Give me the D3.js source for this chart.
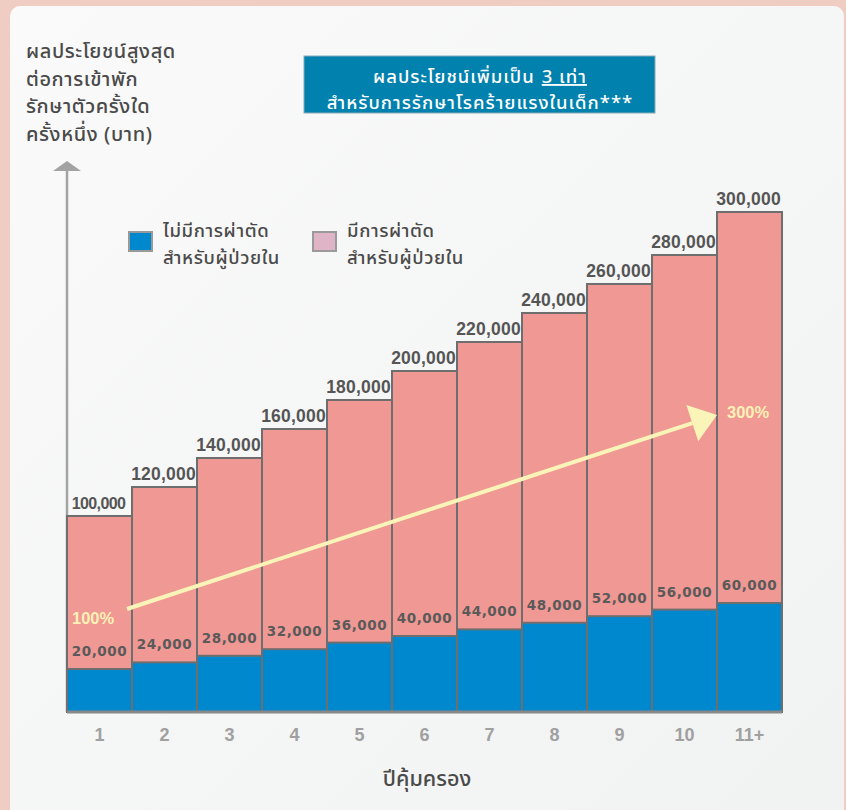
<!DOCTYPE html>
<html>
<head>
<meta charset="utf-8">
<script src="https://cdn.jsdelivr.net/npm/d3@7"></script>
<style>
  html, body { margin: 0; padding: 0; background: #EFCDC2; }
  svg { display: block; }
  text { font-family: "Noto Sans Thai", "Noto Sans", "DejaVu Sans", sans-serif; }
</style>
</head>
<body>
<svg id="chart" width="846" height="810"></svg>
<script>
// ---- data ----
const categories = ["1", "2", "3", "4", "5", "6", "7", "8", "9", "10", "11+"];
const withSurgery = [100000, 120000, 140000, 160000, 180000, 200000, 220000, 240000, 260000, 280000, 300000];
const noSurgery = [20000, 24000, 28000, 32000, 36000, 40000, 44000, 48000, 52000, 56000, 60000];
const yTitleLines = ["ผลประโยชน์สูงสุด", "ต่อการเข้าพัก", "รักษาตัวครั้งใด", "ครั้งหนึ่ง (บาท)"];
const legendLabels = [["ไม่มีการผ่าตัด", "สำหรับผู้ป่วยใน"], ["มีการผ่าตัด", "สำหรับผู้ป่วยใน"]];
const bannerLine1 = "ผลประโยชน์เพิ่มเป็น";
const bannerEmph = "3 เท่า";
const bannerLine2 = "สำหรับการรักษาโรคร้ายแรงในเด็ก***";
const xTitle = "ปีคุ้มครอง";
const pctLabels = ["100%", "300%"];

// ---- layout ----
const svg = d3.select("#chart");
const W = 846, H = 810;
const baseY = 712;
const left = 67, right = 782;

const defs = svg.append("defs");
const grad = defs.append("linearGradient").attr("id", "card").attr("x1", "0").attr("y1", "0").attr("x2", "1").attr("y2", "1");
grad.append("stop").attr("offset", "0").attr("stop-color", "#FAFAFA");
grad.append("stop").attr("offset", "1").attr("stop-color", "#F1F2F2");

svg.append("rect").attr("width", W).attr("height", H).attr("fill", "#EFCDC2");
svg.append("rect").attr("x", 10).attr("y", 6).attr("width", 834).attr("height", 820)
  .attr("rx", 10).attr("fill", "url(#card)");

const x = d3.scaleBand().domain(categories).range([left, right]).paddingInner(0).paddingOuter(0);
// The infographic is not drawn to strict proportion; a polylinear scale reproduces it.
const y = d3.scaleLinear()
  .domain([0, 20000, 60000, 100000, 280000, 300000])
  .range([baseY, 669, 603, 516, 255, 212]);

// y axis arrow
svg.append("line").attr("x1", left).attr("x2", left).attr("y1", 170).attr("y2", baseY)
  .attr("stroke", "#A3A3A3").attr("stroke-width", 2.5);
svg.append("path").attr("d", d3.line()([[left - 14, 171], [left, 161], [left + 14, 171]]) + "Z")
  .attr("fill", "#A3A3A3");

// bars
const g = svg.append("g");
categories.forEach((c, i) => {
  g.append("rect").attr("x", x(c)).attr("y", y(withSurgery[i]))
    .attr("width", x.bandwidth()).attr("height", baseY - y(withSurgery[i]))
    .attr("fill", "#F09893").attr("stroke", "#6E6E6E").attr("stroke-width", 2);
  g.append("rect").attr("x", x(c)).attr("y", y(noSurgery[i]))
    .attr("width", x.bandwidth()).attr("height", baseY - y(noSurgery[i]))
    .attr("fill", "#0088CF").attr("stroke", "#6E6E6E").attr("stroke-width", 2);
});
// baseline
svg.append("line").attr("x1", left).attr("x2", right).attr("y1", baseY).attr("y2", baseY)
  .attr("stroke", "#888").attr("stroke-width", 3);

const fmt = d3.format(",");
// total labels
categories.forEach((c, i) => {
  svg.append("text").attr("x", x(c) + x.bandwidth() / 2 - 1).attr("y", y(withSurgery[i]) - 7)
    .attr("text-anchor", "middle").attr("font-size", i === 0 ? 16 : 17.5).attr("font-weight", "bold")
    .attr("fill", "#555").style("font-family", "'Liberation Sans', Arial, sans-serif")
    .attr("letter-spacing", i === 0 ? -0.6 : 0.2)
    .text(fmt(withSurgery[i]));
  svg.append("text").attr("x", x(c) + x.bandwidth() / 2).attr("y", y(noSurgery[i]) - 13)
    .attr("text-anchor", "middle").attr("font-size", 13.5).attr("font-weight", "bold")
    .attr("fill", "#5A5A5A").attr("letter-spacing", 0.6).style("font-family", "'DejaVu Sans', sans-serif")
    .text(fmt(noSurgery[i]));
});

// x axis labels
const xAxis = d3.axisBottom(x).tickSize(0).tickPadding(0);
const xg = svg.append("g").attr("transform", `translate(0,${baseY})`).call(xAxis);
xg.select(".domain").remove();
xg.selectAll("text").attr("y", 29).attr("dy", 0).attr("font-size", 18).attr("font-weight", "bold")
  .attr("fill", "#A0A0A0").style("font-family", "'Liberation Sans', Arial, sans-serif");

// x title
svg.append("text").attr("x", 427).attr("y", 786).attr("text-anchor", "middle")
  .attr("font-size", 21.5).attr("font-weight", 500).attr("fill", "#4A4A4A").text(xTitle);

// y title
yTitleLines.forEach((t, i) => {
  svg.append("text").attr("x", 26).attr("y", 58 + i * 27.5).attr("font-size", 20)
    .attr("font-weight", 500).attr("letter-spacing", 0.6).attr("fill", "#4A4A4A").text(t);
});

// banner
svg.append("rect").attr("x", 304).attr("y", 56).attr("width", 351).attr("height", 57)
  .attr("fill", "#0081AE").attr("stroke", "#8AA9B8").attr("stroke-width", 1);
const bannerSize = 18.5;
const t1 = svg.append("text").attr("y", 83).attr("font-size", bannerSize).attr("font-weight", 500)
  .attr("letter-spacing", 1).attr("fill", "#fff").text(bannerLine1);
const t2 = svg.append("text").attr("y", 83).attr("font-size", bannerSize).attr("font-weight", 500)
  .attr("letter-spacing", 1).attr("fill", "#fff").attr("text-decoration", "underline").text(bannerEmph);
const w1 = t1.node().getComputedTextLength();
const w2 = t2.node().getComputedTextLength();
const gap = 7;
const startX = 480 - (w1 + gap + w2) / 2;
t1.attr("x", startX);
t2.attr("x", startX + w1 + gap);
svg.append("text").attr("x", 480).attr("y", 109).attr("text-anchor", "middle")
  .attr("font-size", bannerSize).attr("font-weight", 500).attr("letter-spacing", 1)
  .attr("fill", "#fff").text(bannerLine2);

// legend
const legendColors = [["#0088CF", "#999"], ["#DFB4C6", "#9A9A9A"]];
const legendX = [129, 313];
legendLabels.forEach((lines, i) => {
  svg.append("rect").attr("x", legendX[i]).attr("y", 232).attr("width", 23).attr("height", 19)
    .attr("fill", legendColors[i][0]).attr("stroke", legendColors[i][1]).attr("stroke-width", 2);
  lines.forEach((t, j) => {
    svg.append("text").attr("x", legendX[i] + 34).attr("y", 237 + j * 26.5).attr("font-size", 18.5)
      .attr("font-weight", 500).attr("letter-spacing", 0.6).attr("fill", "#4A4A4A").text(t);
  });
});

// growth arrow
const ax0 = x("2") - 5, ay0 = 609;
const ax1 = x("11+"), ay1 = 415;
const ang = Math.atan2(ay1 - ay0, ax1 - ax0);
const headLen = 26, headHalf = 19;
const bx = ax1 - headLen * Math.cos(ang), by = ay1 - headLen * Math.sin(ang);
svg.append("line").attr("x1", ax0).attr("y1", ay0).attr("x2", bx).attr("y2", by)
  .attr("stroke", "#FBF4B8").attr("stroke-width", 4);
svg.append("path").attr("d", d3.line()([
  [ax1, ay1],
  [bx + headHalf * Math.sin(ang), by - headHalf * Math.cos(ang)],
  [bx - headHalf * Math.sin(ang), by + headHalf * Math.cos(ang)]
]) + "Z").attr("fill", "#FBF4B8");
svg.append("text").attr("x", 72).attr("y", 624).attr("font-size", 16.5).attr("font-weight", "bold")
  .attr("fill", "#FCF1B6").style("font-family", "'Liberation Sans', Arial, sans-serif").text(pctLabels[0]);
svg.append("text").attr("x", 727).attr("y", 418).attr("font-size", 16.5).attr("font-weight", "bold")
  .attr("fill", "#FCF1B6").style("font-family", "'Liberation Sans', Arial, sans-serif").text(pctLabels[1]);
</script>
</body>
</html>
